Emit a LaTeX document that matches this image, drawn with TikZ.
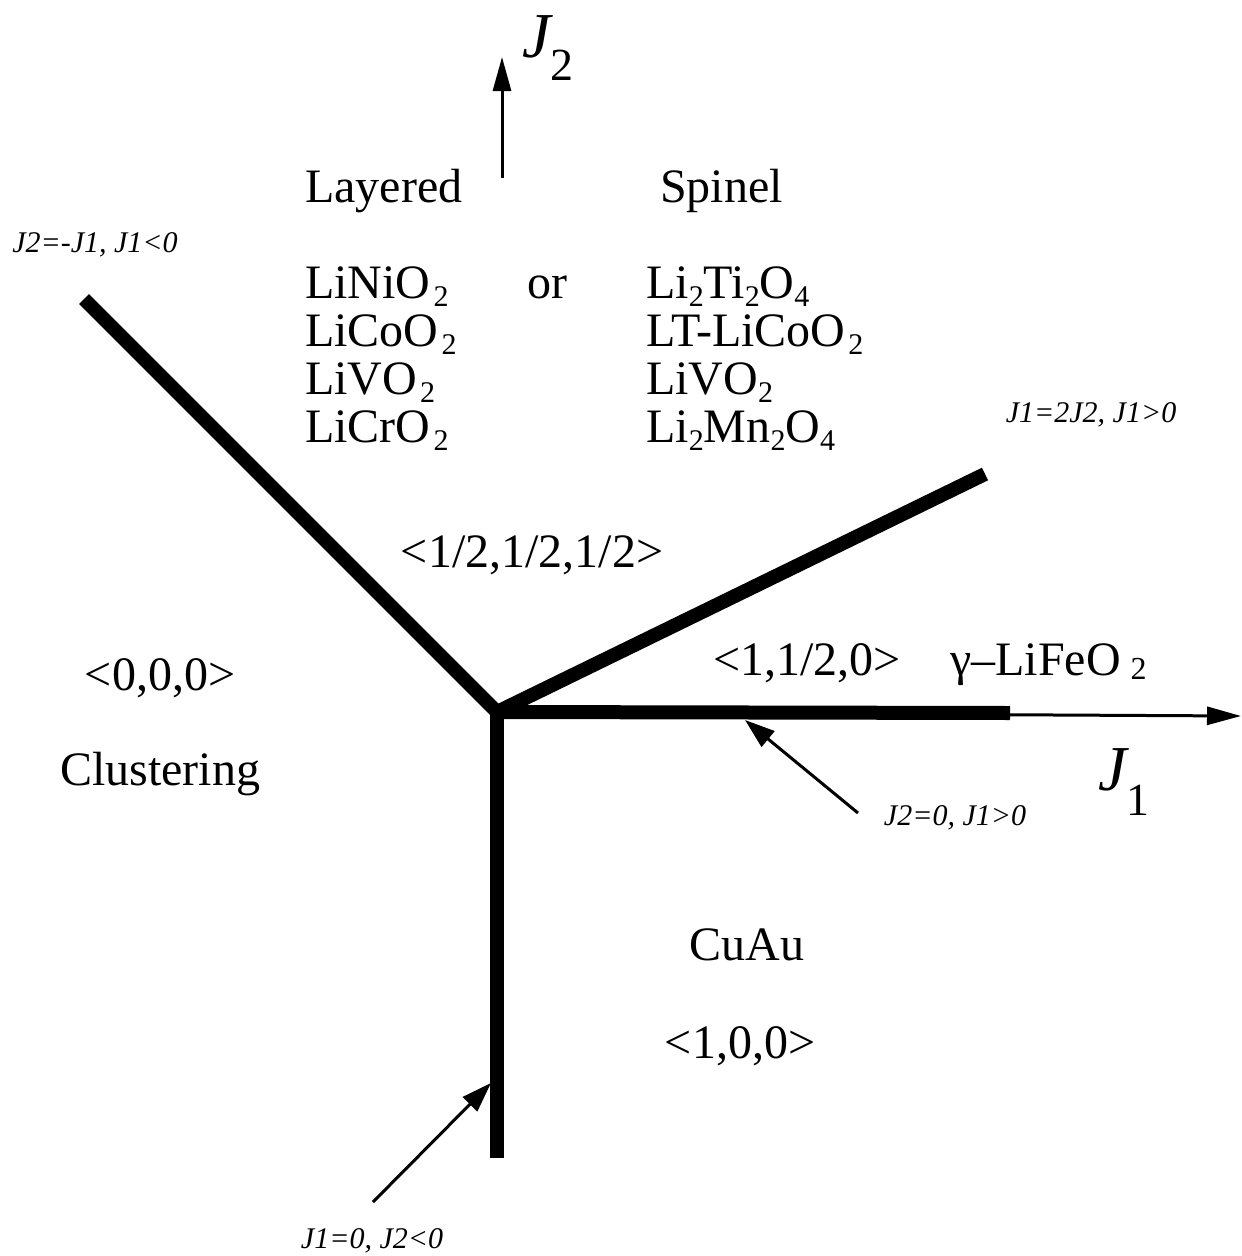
\documentclass[tikz,border=0pt]{standalone}
\usepackage{fontspec}
\setmainfont{Liberation Serif}
\usetikzlibrary{arrows.meta}
% text sizes
\newcommand{\bigtext}{\fontsize{48}{50}\selectfont}
\newcommand{\smalllabel}{\fontsize{30}{32}\selectfont\itshape}
% lowered chemical subscript
\newcommand{\sbs}[1]{\raisebox{-8pt}{\fontsize{30}{30}\selectfont #1}}
\begin{document}
\begin{tikzpicture}[x=1pt,y=-1pt,
  phase/.style={line width=14pt,line cap=butt,line join=miter},
  axis/.style={line width=3pt,-{Triangle[length=34pt,width=18pt]}},
  pointer/.style={line width=3pt,-{Triangle[length=30pt,width=20pt]}},
  txt/.style={inner sep=0pt,font=\bigtext},
  lbl/.style={inner sep=0pt,font=\smalllabel}]
\fill[white] (0,0) rectangle (1242,1256);
\useasboundingbox (0,0) rectangle (1242,1256);

% key points of the phase diagram
\coordinate (O)  at (497,712);
\coordinate (UL) at (84,299);
\coordinate (UR) at (985,474);
\coordinate (RE) at (1010,713);
\coordinate (DE) at (497,1158);
\coordinate (J1tip) at (1241,716);
\coordinate (J2base) at (502,178);
\coordinate (J2tip) at (502,57);
\coordinate (P1tail) at (858,813);
\coordinate (P1tip) at (745,720);
\coordinate (P2tail) at (373,1202);
\coordinate (P2tip) at (491,1083);

% axes
\draw[axis] (O) -- (J1tip);
\draw[axis] (J2base) -- (J2tip);

% phase boundaries
\draw[phase] (UL) -- (O) -- (UR);
\draw[phase] (O) -- (RE);
\draw[phase] ([yshift=7pt]O) -- (DE);

% pointers to boundaries
\draw[pointer] (P1tail) -- (P1tip);
\draw[pointer] (P2tail) -- (P2tip);

% axis labels
\node[inner sep=0pt,anchor=base west] (J2lab) at (522,57)
  {\fontsize{64}{64}\selectfont\itshape J\raisebox{-23pt}{\fontsize{46}{46}\selectfont\upshape 2}};
\node[inner sep=0pt,anchor=base west] (J1lab) at (1098,790)
  {\fontsize{64}{64}\selectfont\itshape J\raisebox{-25pt}{\fontsize{46}{46}\selectfont\upshape 1}};

% top region: structures
\node[txt,anchor=base west] (layered) at (305,202) {Layered};
\node[txt,anchor=base west] (spinel) at (660,202) {Spinel};
\node[txt,anchor=base west] (or) at (527,298) {or};
\node[txt,anchor=base west] (l1) at (305,298) {LiNiO\sbs{\kern3pt 2}};
\node[txt,anchor=base west] (l2) at (305,346) {LiCoO\sbs{\kern3pt 2}};
\node[txt,anchor=base west] (l3) at (305,394) {LiVO\sbs{\kern3pt 2}};
\node[txt,anchor=base west] (l4) at (305,442) {LiCrO\sbs{\kern3pt 2}};
\node[txt,anchor=base west] (s1) at (646,298) {Li\sbs{2}Ti\sbs{2}O\sbs{4}};
\node[txt,anchor=base west] (s2) at (646,346) {LT-LiCoO\sbs{\kern3pt 2}};
\node[txt,anchor=base west] (s3) at (646,394) {LiVO\sbs{2}};
\node[txt,anchor=base west] (s4) at (646,442) {Li\sbs{2}Mn\sbs{2}O\sbs{4}};

% ordering vectors and names
\node[txt,anchor=base] (half) at (532,567) {<1/2,1/2,1/2>};
\node[txt,anchor=base] (zero) at (160,690) {<0,0,0>};
\node[txt,anchor=base] (clus) at (160,785) {Clustering};
\node[txt,anchor=base west] (one) at (713,675) {<1,1/2,0>};
\node[txt,anchor=base west] (gam) at (950,675) {γ–LiFeO\raisebox{-4pt}{\fontsize{32}{32}\selectfont\kern10pt 2}};
\node[txt,anchor=base] (cuau) at (747,960) {CuAu};
\node[txt,anchor=base] (onez) at (740,1058) {<1,0,0>};

% boundary conditions
\node[lbl,anchor=base] (b1) at (95,252) {J2=-J1, J1<0};
\node[lbl,anchor=base] (b2) at (1091,422) {J1=2J2, J1>0};
\node[lbl,anchor=base] (b3) at (955,825) {J2=0, J1>0};
\node[lbl,anchor=base] (b4) at (372,1248) {J1=0, J2<0};
\end{tikzpicture}
\end{document}
